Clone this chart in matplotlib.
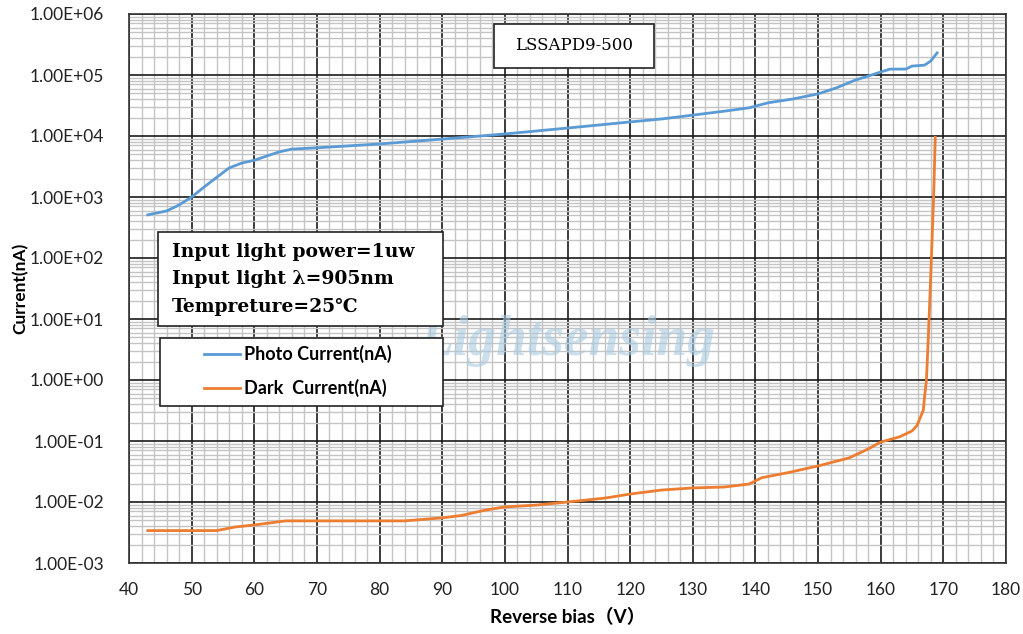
import matplotlib
matplotlib.use("Agg")
import matplotlib.pyplot as plt
from matplotlib.ticker import FixedLocator, LogLocator, NullFormatter, FixedFormatter
from matplotlib.patches import Rectangle
from matplotlib.lines import Line2D

# ---- data ----
photo_v = [43, 46, 48, 50, 52, 54, 56, 58, 60, 62, 64, 66, 70, 80, 90, 94, 100, 110, 120,
           125, 130, 135, 139, 142, 146, 150, 153, 156, 158, 160, 161.5, 164, 165, 167, 168, 169]
photo_i = [510, 590, 740, 1000, 1460, 2100, 3000, 3600, 4000, 4700, 5500, 6100, 6400, 7400,
           8900, 9600, 10800, 13500, 17000, 19000, 22000, 25500, 29000, 35000, 40500, 49000,
           62000, 83000, 96000, 112000, 125000, 125000, 140000, 145000, 170000, 230000]

dark_v = [43, 54, 57, 60, 65, 70, 84, 90, 93, 97, 100, 105, 110, 116, 120, 125, 130, 135, 139,
          141, 145, 150, 155, 158, 160, 163, 165, 165.8, 166.8, 167.0, 167.3, 167.6, 167.9,
          168.2, 168.5, 168.7]
dark_i = [0.0034, 0.0034, 0.0039, 0.0042, 0.0049, 0.0049, 0.0049, 0.0055, 0.006, 0.0074, 0.0083,
          0.0089, 0.010, 0.0116, 0.0135, 0.0157, 0.017, 0.0176, 0.0197, 0.025, 0.030, 0.039,
          0.053, 0.074, 0.096, 0.117, 0.146, 0.18, 0.32, 0.53, 1.0, 5.0, 30.0, 200.0, 1500.0, 9500.0]

x_ticks = [40, 50, 60, 70, 80, 90, 100, 110, 120, 130, 140, 150, 160, 170, 180]
y_ticks = [1e-3, 1e-2, 1e-1, 1e0, 1e1, 1e2, 1e3, 1e4, 1e5, 1e6]
y_labels = ["1.00E-03", "1.00E-02", "1.00E-01", "1.00E+00", "1.00E+01", "1.00E+02",
            "1.00E+03", "1.00E+04", "1.00E+05", "1.00E+06"]

W, H = 1023, 634
fig = plt.figure(figsize=(W / 100, H / 100), dpi=100)
ax = fig.add_axes([129 / W, 1 - 563 / H, (1006 - 129) / W, (563 - 14) / H])

ax.set_yscale("log")
ax.set_xlim(40, 180)
ax.set_ylim(1e-3, 1e6)

ax.xaxis.set_major_locator(FixedLocator(x_ticks))
ax.xaxis.set_minor_locator(FixedLocator(list(range(40, 181, 2))))
ax.yaxis.set_major_locator(FixedLocator(y_ticks))
ax.yaxis.set_major_formatter(FixedFormatter(y_labels))
ax.yaxis.set_minor_locator(LogLocator(base=10, subs=range(2, 10), numticks=50))
ax.yaxis.set_minor_formatter(NullFormatter())

ax.grid(which="minor", color="#c4c4c4", linewidth=1.0)
ax.grid(which="major", color="#1a1a1a", linewidth=1.2)
ax.set_axisbelow(True)
ax.tick_params(which="both", length=0)
ax.tick_params(axis="x", pad=14)
ax.tick_params(axis="y", pad=18)
for lab in ax.get_xticklabels() + ax.get_yticklabels():
    lab.set_fontfamily("Lato")
    lab.set_fontsize(12.5)
    lab.set_color("#222222")
for s in ax.spines.values():
    s.set_color("#333333")
    s.set_linewidth(1.2)

ax.plot(photo_v, photo_i, color="#5B9BD5", linewidth=2.0, zorder=3)
ax.plot(dark_v, dark_i, color="#ED7D31", linewidth=2.0, zorder=3)

ax.set_xlabel("Reverse bias（V）", family=["Lato", "Noto Sans CJK SC"], fontweight="bold",
              fontsize=13.5, labelpad=7)
ax.set_ylabel("Current(nA)", family="Lato", fontweight="bold", fontsize=12.5, labelpad=1)

# watermark
ax.text(0.5, 0.405, "Lightsensing", transform=ax.transAxes, fontsize=40, style="italic",
        fontweight="bold", family="Liberation Serif", color="#a9cbe0", alpha=0.6,
        ha="center", va="center", zorder=1)

def px2ax(px, py):
    return ((px - 129) / 877, (563 - py) / 549)

# title box
x0, y0 = px2ax(494, 68)
x1, y1 = px2ax(654, 24)
ax.add_patch(Rectangle((x0, y0), x1 - x0, y1 - y0, transform=ax.transAxes, facecolor="white",
                       edgecolor="#222222", linewidth=1.2, zorder=5))
ax.text((x0 + x1) / 2, (y0 + y1) / 2, "LSSAPD9-500", transform=ax.transAxes, ha="center",
        va="center", family="DejaVu Serif", fontsize=12, zorder=6)

# info box
x0, y0 = px2ax(158, 326)
x1, y1 = px2ax(443, 232)
ax.add_patch(Rectangle((x0, y0), x1 - x0, y1 - y0, transform=ax.transAxes, facecolor="white",
                       edgecolor="#222222", linewidth=1.2, zorder=5))
info_lines = ["Input light power=1uw", "Input light λ=905nm", "Tempreture=25℃"]
for i, t in enumerate(info_lines):
    tx, ty = px2ax(172, 252 + i * 27.5)
    ax.text(tx, ty, t, transform=ax.transAxes, ha="left", va="center",
            family=["DejaVu Serif", "Noto Sans CJK SC"], fontweight="bold", fontsize=13.5,
            zorder=6)

# legend box (drawn with the series colours)
x0, y0 = px2ax(160, 406)
x1, y1 = px2ax(443, 338)
ax.add_patch(Rectangle((x0, y0), x1 - x0, y1 - y0, transform=ax.transAxes, facecolor="white",
                       edgecolor="#222222", linewidth=1.2, zorder=5))
for label, color, py in [("Photo Current(nA)", "#5B9BD5", 354), ("Dark  Current(nA)", "#ED7D31", 388)]:
    ax_, ay = px2ax(204, py)
    bx, _ = px2ax(240, py)
    ax.add_line(Line2D([ax_, bx], [ay, ay], transform=ax.transAxes, color=color, linewidth=2.0,
                       zorder=6))
    tx, _ = px2ax(244, py)
    ax.text(tx, ay, label, transform=ax.transAxes, ha="left", va="center", family="Lato",
            fontweight="bold", fontsize=13, zorder=6)

fig.savefig("out.png", dpi=100)
